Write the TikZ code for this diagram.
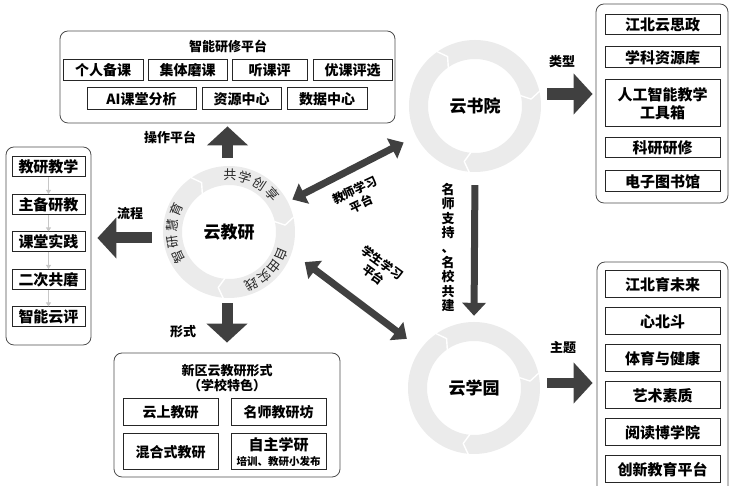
\documentclass[tikz,border=0pt]{standalone}
\usepackage{fontspec}
\setmainfont{Noto Sans CJK SC}
\usetikzlibrary{arrows.meta}

\begin{document}
\begin{tikzpicture}[x=1pt, y=1pt,
    panel/.style={draw=black!70, line width=0.8pt, rounded corners=8pt, inner sep=0pt},
    item/.style={draw=black!85, line width=1pt, inner sep=0pt, align=center, font=\fontsize{14}{16}\selectfont\bfseries},
    ring/.style={circle, inner sep=0pt, minimum size=132pt, font=\fontsize{17}{19}\selectfont\bfseries},
    ringtext/.style={inner sep=0pt, text=black!85, font=\fontsize{13}{13}\selectfont},
    tag/.style={inner sep=1pt, align=center, font=\fontsize{13}{15}\selectfont\bfseries},
    blockarrow/.style={draw=black!75, line width=11pt, -{Triangle[length=19pt,width=40pt]}},
    linkarrow/.style={draw=black!75, line width=7pt, {Triangle[length=13pt,width=22pt]}-{Triangle[length=13pt,width=22pt]}},
    steparrow/.style={draw=black!22, line width=1.3pt, -{Triangle[length=4pt,width=5pt]}}]
    \useasboundingbox (0,0) rectangle (729,486);

    % 智能研修平台
    \node[panel, minimum width=335pt, minimum height=92pt] (platform) at (227.5,409) {};
    \node[tag] (platformtitle) at (228,440) {智能研修平台};
    \node[item, minimum width=80pt, minimum height=21pt] (p1) at (103,415.5) {个人备课};
    \node[item, minimum width=79pt, minimum height=21pt] (p2) at (187.5,415.5) {集体磨课};
    \node[item, minimum width=75pt, minimum height=21pt] (p3) at (269.5,415.5) {听课评};
    \node[item, minimum width=79pt, minimum height=21pt] (p4) at (352.5,415.5) {优课评选};
    \node[item, minimum width=109pt, minimum height=22pt] (p5) at (141.5,387) {AI课堂分析};
    \node[item, minimum width=79pt, minimum height=22pt] (p6) at (241.5,387) {资源中心};
    \node[item, minimum width=80pt, minimum height=22pt] (p7) at (327,387) {数据中心};

    % 流程
    \node[panel, minimum width=85pt, minimum height=198pt] (flow) at (48.5,240) {};
    \node[item, font=\fontsize{15}{17}\selectfont\bfseries, minimum width=73pt, minimum height=20pt] (f1) at (48.5,319) {教研教学};
    \node[item, font=\fontsize{15}{17}\selectfont\bfseries, minimum width=73pt, minimum height=20pt] (f2) at (48.5,281.5) {主备研教};
    \node[item, font=\fontsize{15}{17}\selectfont\bfseries, minimum width=73pt, minimum height=20pt] (f3) at (48.5,244) {课堂实践};
    \node[item, font=\fontsize{15}{17}\selectfont\bfseries, minimum width=73pt, minimum height=20pt] (f4) at (48.5,206.5) {二次共磨};
    \node[item, font=\fontsize{15}{17}\selectfont\bfseries, minimum width=73pt, minimum height=20pt] (f5) at (48.5,169) {智能云评};
    \foreach \i/\j in {f1/f2, f2/f3, f3/f4, f4/f5}
        \draw[steparrow] (\i) -- (\j);

    % 新区云教研形式
    \node[panel, minimum width=226pt, minimum height=124pt] (form) at (227,71) {};
    \node[tag] (formtitle) at (227,107.5) {新区云教研形式\\（学校特色）};
    \node[item, minimum width=95pt, minimum height=27pt] (m1) at (170.5,73.5) {云上教研};
    \node[item, minimum width=95pt, minimum height=27pt] (m2) at (278.5,73.5) {名师教研坊};
    \node[item, minimum width=95pt, minimum height=36pt] (m3) at (170.5,34) {混合式教研};
    \node[item, minimum width=95pt, minimum height=36pt, font=\fontsize{15}{16}\selectfont\bfseries] (m4) at (278.5,34) {自主学研\\[-1pt]{\fontsize{10.5}{12}\selectfont 培训、教研小发布}};

    % 类型
    \node[panel, minimum width=132pt, minimum height=199pt] (types) at (662,382.5) {};
    \node[item, font=\fontsize{15}{18}\selectfont\bfseries, minimum width=115pt, minimum height=20pt] (t1) at (662.5,461) {江北云思政};
    \node[item, font=\fontsize{15}{18}\selectfont\bfseries, minimum width=115pt, minimum height=21pt] (t2) at (662.5,428.5) {学科资源库};
    \node[item, font=\fontsize{15}{18}\selectfont\bfseries, minimum width=115pt, minimum height=47pt] (t3) at (662.5,382.5) {人工智能教学\\工具箱};
    \node[item, font=\fontsize{15}{18}\selectfont\bfseries, minimum width=115pt, minimum height=20pt] (t4) at (662.5,338) {科研研修};
    \node[item, font=\fontsize{15}{18}\selectfont\bfseries, minimum width=115pt, minimum height=21pt] (t5) at (662.5,304.5) {电子图书馆};

    % 主题
    \node[panel, minimum width=131pt, minimum height=233pt] (themes) at (662.5,107.5) {};
    \node[item, font=\fontsize{15}{18}\selectfont\bfseries, minimum width=115pt, minimum height=27pt] (s1) at (662.5,201.5) {江北育未来};
    \node[item, font=\fontsize{15}{18}\selectfont\bfseries, minimum width=115pt, minimum height=27pt] (s2) at (662.5,164.5) {心北斗};
    \node[item, font=\fontsize{15}{18}\selectfont\bfseries, minimum width=115pt, minimum height=27pt] (s3) at (662.5,127.5) {体育与健康};
    \node[item, font=\fontsize{15}{18}\selectfont\bfseries, minimum width=115pt, minimum height=27pt] (s4) at (662.5,90.5) {艺术素质};
    \node[item, font=\fontsize{15}{18}\selectfont\bfseries, minimum width=115pt, minimum height=27pt] (s5) at (662.5,53.5) {阅读博学院};
    \node[item, font=\fontsize{15}{18}\selectfont\bfseries, minimum width=115pt, minimum height=27pt] (s6) at (662.5,16.5) {创新教育平台};

    % Rings
    \node[ring] (yjy) at (229,254) {云教研};
    \node[ring] (ysy) at (475,380) {云书院};
    \node[ring] (yxy) at (474,98) {云学园};
    \foreach \r in {yjy, ysy, yxy} {
        \fill[black!8, even odd rule] (\r.center) circle (66) circle (47);
        \foreach \a in {122, 10, 262}
            \draw[white, line width=1.4pt, line join=round]
                ([shift={(\a+3:66.5)}]\r.center) -- ([shift={(\a-3:56.5)}]\r.center) -- ([shift={(\a+3:46.5)}]\r.center);
    }
    \foreach \ch/\a in {共/89, 学/73, 创/57, 享/41}
        \node[ringtext, rotate=\a-90] (ra\a) at ([shift={(\a:57)}]yjy.center) {\ch};
    \foreach \ch/\a in {自/-23, 由/-38, 实/-52, 践/-67}
        \node[ringtext, rotate=\a-90] (rb\a) at ([shift={(\a:57)}]yjy.center) {\ch};
    \foreach \ch/\a in {智/206, 研/190, 慧/173, 育/157}
        \node[ringtext, rotate=\a-90] (rc\a) at ([shift={(\a:57)}]yjy.center) {\ch};

    % Arrows
    \draw[blockarrow, shorten <=8pt, shorten >=3pt] (platform.south |- yjy.north) -- (platform.south);
    \node[tag] (optag) at (170,349) {操作平台};
    \draw[blockarrow, shorten <=11pt, shorten >=6pt] ([yshift=-6pt]yjy.west) -- ([yshift=8pt]flow.east);
    \node[tag] (flowtag) at (130,272) {流程};
    \draw[blockarrow, shorten <=5pt, shorten >=10pt] (form.north |- yjy.south) -- (form.north);
    \node[tag] (formtag) at (183,154) {形式};
    \draw[blockarrow, line width=12pt, shorten <=6pt, shorten >=3pt] ([yshift=12pt]ysy.east) -- ([yshift=9.5pt]types.west);
    \node[tag] (typetag) at (562,424) {类型};
    \draw[blockarrow, line width=10pt, shorten <=7pt, shorten >=4pt] ([yshift=5pt]yxy.east) -- ([yshift=-4.5pt]themes.west);
    \node[tag] (themetag) at (563,138) {主题};

    \draw[draw=black!75, line width=7pt, -{Triangle[length=13pt,width=23pt]}, shorten <=13pt, shorten >=6pt] (ysy.south) -- (yxy.north);
    \node[tag, text width=14pt, font=\fontsize{13}{14.6}\selectfont\bfseries] (supporttag) at (448,238.5) {名\\师\\支\\持\\、\\名\\校\\共\\建};

    \draw[linkarrow, shorten <=5pt, shorten >=14pt] (yjy) -- (ysy);
    \node[tag, rotate=25, font=\fontsize{12}{15}\selectfont\bfseries] (teachertag) at (358,289) {教师学习\\平台};
    \draw[linkarrow, shorten <=16pt, shorten >=17pt] (yjy.-18) -- (yxy.144);
    \node[tag, rotate=-36, font=\fontsize{12}{15}\selectfont\bfseries] (studenttag) at (378,217) {学生学习\\平台};
\end{tikzpicture}
\end{document}
